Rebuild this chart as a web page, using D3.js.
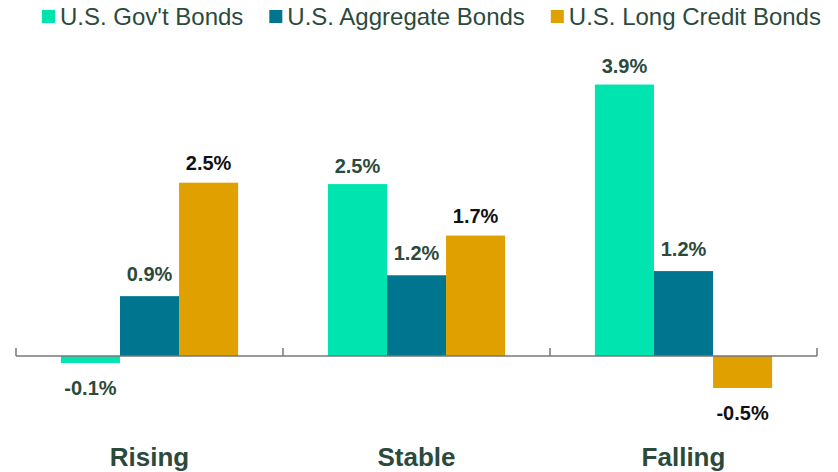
<!DOCTYPE html>
<html>
<head>
<meta charset="utf-8">
<script src="https://cdn.jsdelivr.net/npm/d3@7"></script>
<style>
  body { margin: 0; background: #fff; }
  svg { display: block; font-family: "Liberation Sans", Arial, sans-serif; }
</style>
</head>
<body>
<div id="chart"></div>
<script>
// ── Data ─────────────────────────────────────────────────────────────────────
const SCENARIOS = ['Rising', 'Stable', 'Falling'];
const SERIES    = ["U.S. Gov't Bonds", 'U.S. Aggregate Bonds', 'U.S. Long Credit Bonds'];
const GOV_VALUES  = [-0.1, 2.47, 3.9];
const AGG_VALUES  = [0.86, 1.16, 1.22];
const LONG_VALUES = [2.49, 1.73, -0.46];

const SERIES_COLOR = ['#00e5b0', '#00758f', '#e0a000'];
const LABEL_COLOR  = ['#2b4a3c', '#2b4a3c', '#111111'];
const TEXT_DARK    = '#2b4a3c';

const seriesValues = [GOV_VALUES, AGG_VALUES, LONG_VALUES];
const rows = SCENARIOS.map((s, i) => ({
  scenario: s,
  bars: SERIES.map((name, k) => ({ k, name, value: seriesValues[k][i] })),
}));

// ── Layout ───────────────────────────────────────────────────────────────────
const W = 838, H = 472;
const svg = d3.select('#chart').append('svg')
  .attr('width', W).attr('height', H);

const x0 = d3.scaleBand().domain(SCENARIOS).range([16, 817]).padding(0);
const x1 = d3.scaleBand().domain(d3.range(SERIES.length))
  .range([0, x0.bandwidth()]).paddingInner(0).paddingOuter(0.76);
const y = d3.scaleLinear().domain([-1, 4.5]).range([425.6, 42.8]);

// Bars
const groups = svg.selectAll('.grp').data(rows).join('g')
  .attr('class', 'grp')
  .attr('transform', d => `translate(${x0(d.scenario)},0)`);

groups.selectAll('rect').data(d => d.bars).join('rect')
  .attr('x', d => x1(d.k))
  .attr('width', x1.bandwidth())
  .attr('y', d => y(Math.max(0, d.value)))
  .attr('height', d => Math.abs(y(d.value) - y(0)))
  .attr('fill', d => SERIES_COLOR[d.k]);

// Value labels
const LABEL_GAP = [11.5, 15, 13];
groups.selectAll('text.val').data(d => d.bars).join('text')
  .attr('class', 'val')
  .attr('x', d => x1(d.k) + x1.bandwidth() / 2)
  .attr('y', d => d.value >= 0 ? y(d.value) - LABEL_GAP[d.k] : y(d.value) + 32)
  .attr('text-anchor', 'middle')
  .attr('fill', d => LABEL_COLOR[d.k])
  .style('font-size', '20px').style('font-weight', '700')
  .text(d => d.value.toFixed(1) + '%');

// Axis (ticks point upward)
const axisY = y(0);
const axis = svg.append('g').attr('transform', `translate(0,${axisY})`);
axis.append('line')
  .attr('x1', x0.range()[0]).attr('x2', x0.range()[1])
  .attr('stroke', '#777').attr('stroke-width', 1.5);
const tickXs = SCENARIOS.map(s => x0(s)).concat([x0.range()[1]]);
axis.selectAll('line.tick').data(tickXs).join('line')
  .attr('class', 'tick')
  .attr('x1', d => d).attr('x2', d => d)
  .attr('y1', 0).attr('y2', -8)
  .attr('stroke', '#777').attr('stroke-width', 1.5);

// Category labels
svg.append('g').selectAll('text').data(SCENARIOS).join('text')
  .attr('x', d => x0(d) + x0.bandwidth() / 2)
  .attr('y', 466)
  .attr('text-anchor', 'middle')
  .attr('fill', TEXT_DARK)
  .style('font-size', '26px').style('font-weight', '700')
  .text(d => d);

// Legend
const legend = svg.append('g');
let cx = 42;
SERIES.forEach((name, k) => {
  legend.append('rect')
    .attr('x', cx).attr('y', 10).attr('width', 13).attr('height', 13)
    .attr('fill', SERIES_COLOR[k]);
  const t = legend.append('text')
    .attr('x', cx + 18).attr('y', 25)
    .attr('fill', TEXT_DARK)
    .style('font-size', '24px')
    .text(name);
  cx += 18 + t.node().getComputedTextLength() + 26;
});
</script>
</body>
</html>
